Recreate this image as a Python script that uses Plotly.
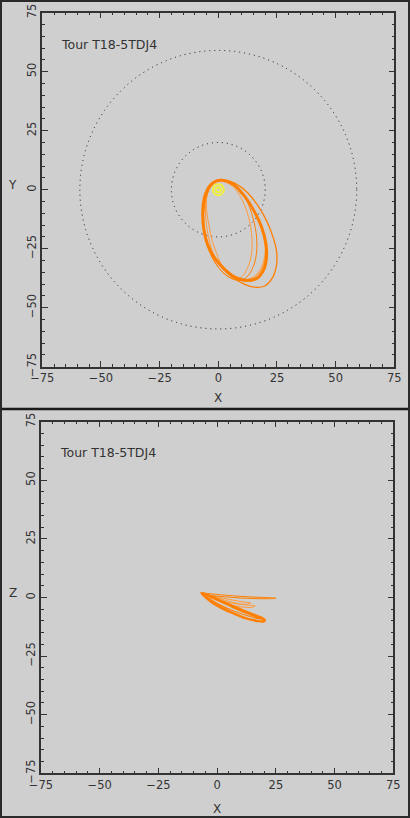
import plotly.graph_objects as go

# ---------------- data ----------------
tour_label = "Tour T18-5TDJ4"
axis_range = [-75, 75]
tick_values = [-75, -50, -25, 0, 25, 50, 75]

# reference circles (radius, in Saturn radii)
circle_radii = [20, 59]

# Saturn position
saturn_x = [0, 0]
saturn_y = [0, 0]

# XY projection of orbits
xy_main_x = [1.5, 6, 11, 15.5, 18.5, 20.3, 20.5, 19.3, 16.5, 12, 7, 2.5, -1.5, -4.5, -6.2, -6.6, -5.8, -3.5, -1, 1.5]
xy_main_y = [4.0, 2.5, -2.5, -9.5, -16, -23, -29, -34, -37.5, -38.5, -37, -33.5, -29, -23.5, -16.5, -9, -3, 1.8, 3.6, 4.0]

xy_outer_x = [2, 7, 12.7, 17, 20.5, 23.3, 24.8, 24.8, 23, 19.8, 15.5, 11, 6, 1.5, -2, -5, -6.4, -6.6, -5.5, -3, -0.5, 2]
xy_outer_y = [4.3, 2.8, -1.5, -7, -13, -20, -26, -32, -37.5, -40.8, -41.3, -40, -37, -33, -28, -22, -15, -8, -2, 2.3, 4, 4.3]

xy_in1_x = [1, 6, 10, 13, 14.3, 14.2, 12.5, 9.8, 6, 2, -1.5, -4.5, -6, -6.3, -5, -2.5, 1]
xy_in1_y = [3.8, 1.5, -4, -12, -20, -27, -33, -37, -37.5, -35, -30.5, -24, -17, -9, -2.5, 2, 3.8]

xy_in2_x = [1.5, 7, 11.5, 14.8, 16.3, 16.2, 14.5, 11.5, 7.5, 3, -1, -4, -5.8, -6.2, -5, -2.5, 1.5]
xy_in2_y = [4, 2, -3.5, -12, -20, -27.5, -33.5, -37.5, -38.3, -36, -31.5, -25.5, -18, -9.5, -2.5, 2.2, 4]

xy_band1_x = [1.5, 6, 11, 15.5, 18.5, 20, 19.8, 18, 14.5, 10, 5, 1, -1.5, -3.5, -4.8, -5.5, -5, -3, -0.5, 1.5]
xy_band1_y = [4, 2.5, -2.5, -9.5, -16, -23, -29.5, -34.5, -37.8, -38.5, -36.5, -32.5, -28.5, -23, -16.5, -9, -3, 2, 3.8, 4]

xy_band2_x = [1.5, 6, 11, 15.5, 18.5, 20, 19.5, 17.5, 14, 9.5, 5, 1.5, -0.5, -2.5, -4, -5, -4.8, -3, -0.5, 1.5]
xy_band2_y = [4, 2.5, -2.5, -9.5, -16, -23, -29.5, -34.5, -37.5, -38, -36, -32, -27.5, -22, -15, -8.5, -2.5, 2, 3.8, 4]

# XZ projection of orbits
xz_main_x = [-6.6, -4, 0, 5, 10, 15, 18.5, 20.3, 19.8, 17, 12, 7, 2, -2, -5, -6.6]
xz_main_z = [1.8, 1.0, -0.8, -3.2, -5.5, -7.5, -8.8, -9.6, -10.2, -10.0, -8.8, -6.8, -4.5, -2.2, 0.2, 1.8]

xz_outer_x = [-7, -3, 3, 10, 17, 22, 25, 23, 17, 10, 3, -3, -7]
xz_outer_z = [2.0, 1.6, 1.0, 0.5, 0.1, -0.1, -0.3, -0.5, -0.5, -0.2, 0.3, 0.9, 2.0]

xz_in1_x = [-6.5, -3, 2, 7, 11, 14.3, 13, 9, 4, -1, -5, -6.5]
xz_in1_z = [1.8, 1.0, -0.2, -1.2, -1.9, -2.4, -2.8, -2.8, -2.0, -0.6, 1.0, 1.8]

xz_in2_x = [-6.5, -3, 2, 7, 12, 16.2, 15, 10, 4, -1, -5, -6.5]
xz_in2_z = [1.8, 0.8, -0.8, -2.2, -3.2, -3.6, -4.2, -4.0, -2.8, -1.0, 0.8, 1.8]

xz_band_x = [-6.5, -3, 2, 7, 12, 17, 19.5, 18, 13, 7, 2, -3, -6.5]
xz_band_z = [1.8, 0.6, -1.4, -3.6, -5.6, -7.6, -8.6, -9.0, -7.8, -5.8, -3.6, -0.8, 1.8]

# ---------------- styling ----------------
BG = "#cfcfcf"
INK = "#333333"
ORANGE = "#ff7f00"
ORANGE_LIGHT = "#ff9a3c"
YELLOW = "#ffff00"
FONT = "DejaVu Sans"

fig = go.Figure()


def orbit(x, y, xa, ya, color, width):
    fig.add_trace(go.Scatter(
        x=x, y=y, xaxis=xa, yaxis=ya, mode="lines",
        line=dict(color=color, width=width, shape="spline", smoothing=1.0),
        hoverinfo="skip", showlegend=False))


# top panel (X-Y)
orbit(xy_band1_x, xy_band1_y, "x", "y", ORANGE_LIGHT, 1)
orbit(xy_band2_x, xy_band2_y, "x", "y", ORANGE_LIGHT, 1)
orbit(xy_in1_x, xy_in1_y, "x", "y", ORANGE_LIGHT, 1)
orbit(xy_in2_x, xy_in2_y, "x", "y", ORANGE, 1)
orbit(xy_outer_x, xy_outer_y, "x", "y", ORANGE, 1.3)
orbit(xy_main_x, xy_main_y, "x", "y", ORANGE, 3)

fig.add_trace(go.Scatter(
    x=saturn_x, y=saturn_y, xaxis="x", yaxis="y", mode="markers",
    marker=dict(symbol="circle-open", size=[11, 5], color=YELLOW, line=dict(width=2, color=YELLOW)),
    hoverinfo="skip", showlegend=False))

# bottom panel (X-Z)
orbit(xz_in1_x, xz_in1_z, "x2", "y2", ORANGE_LIGHT, 1)
orbit(xz_in2_x, xz_in2_z, "x2", "y2", ORANGE_LIGHT, 1)
orbit(xz_outer_x, xz_outer_z, "x2", "y2", ORANGE, 1)
orbit(xz_band_x, xz_band_z, "x2", "y2", ORANGE, 1.2)
orbit(xz_main_x, xz_main_z, "x2", "y2", ORANGE, 2.5)


def axis(domain, anchor, vertical):
    d = dict(
        domain=domain, anchor=anchor, range=axis_range,
        tickmode="array", tickvals=tick_values,
        ticks="inside", ticklen=6, tickwidth=1, tickcolor=INK,
        showline=True, linecolor=INK, linewidth=1.5, mirror="ticks",
        showgrid=False, zeroline=False, automargin=False, fixedrange=True,
        minor=dict(dtick=5, tick0=-75, ticks="inside", ticklen=3, tickwidth=1,
                   tickcolor=INK, showgrid=False),
        tickfont=dict(family=FONT, size=11.5, color=INK),
    )
    if vertical:
        d["tickangle"] = -90
    return d


fig.update_layout(
    width=410, height=818, autosize=False,
    margin=dict(l=0, r=0, t=0, b=0, pad=0),
    paper_bgcolor=BG, plot_bgcolor=BG,
    xaxis=axis([0.1032, 0.9617], "y", False),
    yaxis=axis([0.5517, 0.9845], "x", True),
    xaxis2=axis([0.1000, 0.9593], "y2", False),
    yaxis2=axis([0.0547, 0.4845], "x2", True),
)

shapes = []
for r in circle_radii:
    shapes.append(dict(type="circle", xref="x", yref="y", x0=-r, y0=-r, x1=r, y1=r,
                       line=dict(color="#1a1a1a", width=1, dash="1px,4px"), layer="below"))
shapes.append(dict(type="line", xref="paper", yref="paper", x0=0, x1=1, y0=0.5, y1=0.5,
                   line=dict(color="#1a1a1a", width=2.5)))
shapes.append(dict(type="rect", xref="paper", yref="paper", x0=0, x1=1, y0=0, y1=1,
                   line=dict(color="#2a2a2a", width=4)))
fig.update_layout(shapes=shapes)

ann_font = dict(family=FONT, size=12.5, color=INK)
title_font = dict(family=FONT, size=12, color=INK)
annotations = [
    dict(text=tour_label, xref="paper", yref="paper", x=59 / 410, y=1 - 44 / 818,
         xanchor="left", yanchor="middle", showarrow=False, font=ann_font),
    dict(text=tour_label, xref="paper", yref="paper", x=58 / 410, y=1 - 452 / 818,
         xanchor="left", yanchor="middle", showarrow=False, font=ann_font),
    dict(text="Y", xref="paper", yref="paper", x=12.7 / 410, y=1 - 185 / 818,
         xanchor="center", yanchor="middle", showarrow=False, font=title_font),
    dict(text="X", xref="paper", yref="paper", x=218 / 410, y=1 - 398 / 818,
         xanchor="center", yanchor="middle", showarrow=False, font=title_font),
    dict(text="Z", xref="paper", yref="paper", x=12.7 / 410, y=1 - 593 / 818,
         xanchor="center", yanchor="middle", showarrow=False, font=title_font),
    dict(text="X", xref="paper", yref="paper", x=217 / 410, y=1 - 809 / 818,
         xanchor="center", yanchor="middle", showarrow=False, font=title_font),
]
fig.update_layout(annotations=annotations)

fig.write_html(
    "out.html",
    config={"displayModeBar": False},
    post_script="document.body.style.margin='0';document.body.style.overflow='hidden';",
)
